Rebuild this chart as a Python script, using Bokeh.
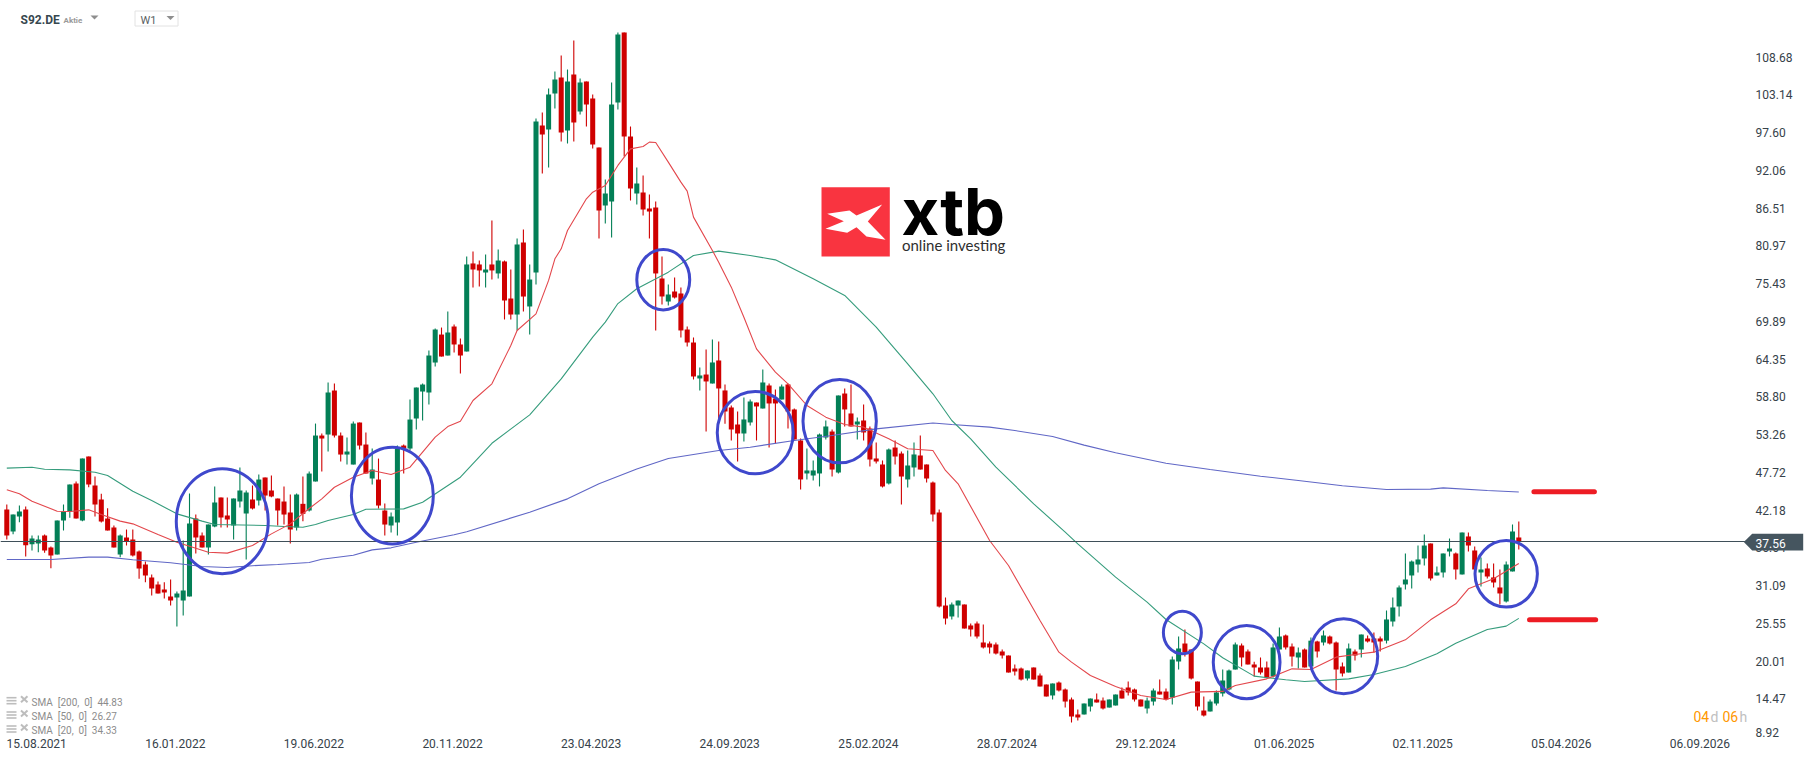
from bokeh.core.properties import value
from bokeh.embed import file_html
from bokeh.resources import INLINE
from bokeh.plotting import figure
from bokeh.models import Range1d, LinearAxis, FixedTicker

# weekly candles of S92.DE
highs = [
42.99,41.52,42.85,42.7,38.44,38.44,38.59,36.83,40.64,42.99,
45.93,46.37,49.75,50.04,47.1,44.56,42.45,39.91,38.59,39.32,
39.32,36.24,34.62,32.71,31.69,31.59,31.98,30.2,37.71,44.61,
41.52,38.88,40.06,45.64,44.02,44.02,43.87,48.43,45.05,45.78,
47.4,46.96,47.25,43.87,45.64,44.46,44.61,47.1,47.84,54.88,
53.42,60.91,60.76,53.56,52.83,55.18,55.03,53.56,51.21,49.74,
43.14,41.82,51.65,51.8,58.41,60.17,60.76,65.6,68.84,68.98,
71.33,69.42,67.37,79.41,80.15,78.82,79.71,84.7,80.44,78.82,
77.5,82.06,83.38,78.24,99.68,100.56,104.08,106.58,108.93,106.87,
111.13,105.55,105.11,103.2,95.42,90.72,104.97,112.31,112.31,98.5,
92.48,91.31,88.52,87.49,79.41,75.3,76.33,74.86,69.13,67.52,
63.11,65.76,67.22,66.93,60.62,57.53,56.65,58.71,58.41,57.97,
62.82,60.76,59.88,60.62,60.76,57.09,52.69,51.22,49.46,53.42,
55.33,54.01,59.0,60.03,60.62,55.77,57.68,54.45,52.1,49.46,
51.22,52.39,50.78,50.92,52.1,53.13,48.87,46.37,42.26,29.34,
28.6,28.89,28.31,25.52,25.81,25.37,22.88,22.73,21.7,20.82,
19.5,19.06,18.62,19.06,18.18,16.56,16.71,17.0,15.97,14.65,
12.89,13.77,14.5,15.24,14.65,14.36,15.09,16.12,17.0,15.97,
14.36,14.65,15.97,17.29,15.97,20.67,23.61,24.64,21.7,17.0,
14.8,14.36,15.68,18.76,18.76,22.73,22.58,21.7,19.9,20.53,
19.94,22.58,24.93,23.9,22.58,22.0,21.85,23.46,23.0,24.49,
23.76,22.88,19.79,22.58,21.7,23.9,23.76,24.2,23.61,27.43,
29.34,31.1,35.8,34.77,36.97,38.59,37.27,33.89,35.8,38.0,
35.95,38.88,38.88,36.83,35.21,34.33,34.33,33.45,34.62,40.06,
40.5]

body_tops = [
42.26,41.52,41.96,42.26,38.0,37.85,38.44,36.68,40.64,41.96,
45.93,46.08,49.75,50.04,45.78,43.73,40.94,39.62,38.44,38.15,
37.85,36.09,34.18,32.27,31.24,30.51,29.48,29.92,30.36,40.2,
40.94,38.44,40.06,43.29,44.02,41.38,43.87,45.05,44.76,43.73,
46.66,46.96,45.05,43.87,43.43,41.82,44.46,43.09,47.54,53.12,
53.12,59.44,59.73,53.12,50.77,54.88,55.03,51.8,48.13,46.66,
42.11,41.23,51.21,51.65,55.47,60.17,60.61,64.87,68.69,67.95,
68.25,69.13,66.49,78.24,78.39,78.24,77.5,78.24,78.82,78.68,
73.24,81.18,81.47,76.03,99.24,98.65,103.2,105.41,105.7,105.11,
106.14,104.97,105.11,102.62,95.42,88.66,101.73,112.01,112.31,97.03,
90.13,88.81,86.46,86.61,76.18,73.83,74.27,73.98,68.69,66.78,
61.94,62.08,63.85,64.14,59.74,57.24,54.74,55.48,58.12,57.97,
60.91,60.47,58.56,60.32,60.62,56.95,52.39,47.99,47.99,53.27,
54.45,53.71,59.0,59.29,56.36,55.18,55.33,54.15,49.75,48.87,
51.07,51.36,50.48,48.72,50.34,50.19,48.87,46.22,41.82,28.16,
28.31,28.89,28.31,25.23,25.52,22.73,22.58,22.44,21.41,20.82,
18.91,18.91,18.62,19.06,17.88,16.56,16.71,16.85,15.83,14.36,
12.16,13.77,14.5,14.36,14.21,14.36,15.09,15.68,16.12,15.83,
14.36,14.21,15.68,15.53,15.53,20.23,21.85,22.58,21.7,17.0,
12.74,14.06,15.39,17.15,18.62,22.44,22.29,21.41,19.5,19.06,
19.06,22.0,23.61,23.76,22.14,21.26,21.7,23.0,22.88,23.76,
23.61,22.73,19.21,21.85,21.41,23.9,23.32,23.32,23.32,26.11,
27.87,30.81,31.98,34.62,34.92,36.97,37.27,33.01,35.8,36.53,
35.8,38.88,38.3,36.24,33.45,33.6,32.28,30.81,34.18,39.03,
38.15]

body_bottoms = [
38.44,39.03,41.23,37.02,37.17,37.27,36.24,35.5,35.65,40.64,
41.96,40.94,40.64,45.93,42.99,40.5,39.17,36.68,35.65,37.56,
35.5,33.59,32.57,30.66,29.92,30.07,28.9,29.34,28.9,29.48,
38.15,36.68,36.68,39.76,41.08,40.79,39.91,43.43,41.67,42.41,
43.58,44.31,44.17,42.11,41.52,39.32,39.62,41.62,42.11,46.37,
52.68,53.27,53.12,50.33,50.33,48.86,51.65,47.54,46.81,42.84,
40.05,39.91,40.35,51.21,51.21,55.62,59.58,59.44,63.84,64.72,
64.87,66.49,64.87,65.46,77.5,77.36,77.06,77.36,76.92,72.95,
70.89,70.89,73.53,72.07,77.06,97.33,98.06,103.35,97.62,97.92,
99.09,100.71,101.73,95.86,86.17,86.9,87.49,102.03,97.03,89.4,
88.66,86.31,86.02,76.92,73.54,72.8,73.39,68.55,66.78,61.79,
61.5,61.06,60.76,60.03,56.65,54.01,53.42,53.42,55.04,57.39,
57.09,57.83,57.83,58.41,56.65,52.54,46.67,47.55,47.25,47.55,
52.83,48.13,47.69,56.95,54.45,54.74,53.57,49.6,49.31,45.64,
46.08,50.04,47.1,46.67,48.43,48.13,46.81,41.53,28.01,26.25,
26.55,28.16,24.78,24.64,23.61,22.0,22.0,21.11,20.82,18.32,
18.47,17.29,17.44,17.29,16.27,14.8,14.95,15.68,14.06,11.86,
11.72,12.16,13.33,13.92,13.04,13.18,13.48,14.5,15.39,14.36,
13.33,13.04,14.06,15.09,14.36,14.65,19.94,21.26,17.44,13.33,
12.01,12.6,13.77,15.24,15.83,18.76,20.53,19.5,19.06,18.32,
17.59,17.74,21.7,22.0,20.67,20.53,19.06,19.21,21.41,22.73,
22.58,18.76,18.18,18.32,20.82,21.7,22.88,22.73,22.88,23.0,
25.81,28.02,31.25,32.57,34.18,35.07,32.13,32.57,33.01,36.09,
33.45,32.72,36.97,33.45,33.01,32.42,31.54,29.93,28.75,33.16,
37.56]

lows = [
37.85,38.64,40.4,35.36,36.24,35.99,35.9,33.64,35.65,39.17,
41.03,40.94,40.55,45.54,41.23,40.35,39.17,36.68,35.26,36.97,
35.36,32.08,31.59,29.63,29.92,29.19,28.16,25.08,26.69,29.48,
35.8,36.68,35.65,39.66,39.62,39.62,37.85,42.55,34.92,42.26,
42.85,42.11,44.07,39.91,40.06,37.27,39.17,40.54,41.96,46.37,
47.84,50.77,52.83,49.3,48.86,48.86,51.07,47.54,45.93,42.4,
38.44,38.88,38.44,47.54,50.92,54.0,55.33,57.67,63.25,64.72,
64.87,65.31,62.23,65.46,74.86,75.0,74.86,76.03,76.18,70.16,
70.16,68.54,71.33,67.95,75.3,91.6,92.48,101.15,96.3,96.01,
96.3,100.27,98.5,95.27,82.06,84.26,82.2,101.0,94.1,87.64,
87.05,85.43,82.06,68.55,72.36,72.22,73.25,67.52,66.2,61.35,
59.74,53.71,60.76,55.33,54.84,52.39,49.31,52.25,54.6,52.39,
57.09,51.36,51.95,58.41,54.15,52.54,45.2,46.67,46.52,45.64,
52.54,47.1,47.55,54.45,54.45,52.54,52.39,48.57,49.01,45.49,
45.93,48.87,43.0,45.49,47.1,48.13,46.22,40.5,27.87,25.37,
26.11,26.4,24.78,23.61,23.32,21.85,21.11,20.97,20.38,18.32,
17.88,17.15,17.15,17.29,16.27,14.8,14.36,15.53,13.18,10.98,
11.27,12.16,12.6,13.92,12.89,13.18,13.48,14.5,14.95,14.06,
13.33,12.3,13.48,15.09,14.21,13.62,18.76,20.67,17.29,12.74,
11.86,12.6,13.48,14.8,15.68,18.76,19.21,19.5,17.74,18.03,
17.44,17.59,21.7,21.7,19.21,18.91,19.06,19.06,20.53,22.29,
22.44,15.68,17.74,18.32,20.09,20.53,22.73,21.26,21.41,22.58,
25.08,26.55,30.51,30.66,33.01,34.04,31.83,32.57,32.28,35.36,
31.98,32.72,36.09,33.45,30.95,32.13,30.81,28.31,28.6,33.16,
36.39]

directions = list(
    "RGGRGGRRGG" "GRGRRRRRGR" "RRRRRRRGGG" "RRGGRRGGGR" "GRRRRRGRGG"
    "RGRRGGRRGR" "RGGRGGGGGR" "GRRGRRGRGR" "RGRGGRGGRG" "RGRRRGGGRR"
    "GRRRRGRRRR" "GRGRRRRGGR" "GRRGRRRGGG" "GRGRRGRRRR" "GRRGGRRRRR"
    "GGRRRRRRRR" "RRGRRRGRRR" "RGGRRGGRRR" "RGGRRGGRRR" "RGGGGGRRRR"
    "RGGRRGRGRG" "RRRGRGRRRG" "GGGGGGRGGG" "RGRRGRRRGG" "R")

assert len(highs) == len(lows) == len(body_tops) == len(body_bottoms) == len(directions) == 241

# moving averages at the weeks listed
sma200_weeks = [0,7,13,16,20,26,31,35,39,43,48,50,55,58,61,65,71,73,83,89,94,100,105,113,118,125,131,138,147,150,156,160,166,171,176,184,191,199,205,212,219,226,228,235,240]
sma200_vals = [34.92,34.92,35.26,35.26,34.87,34.43,33.89,33.74,34.0,34.18,34.48,34.96,35.55,36.33,36.63,37.46,38.54,39.0,41.86,43.82,46.05,48.2,49.75,50.92,51.41,52.39,53.13,54.1,54.97,54.74,54.35,53.86,52.98,51.71,50.58,49.06,48.13,47.15,46.52,45.74,45.2,45.25,45.44,45.05,44.83]

sma50_weeks = [0,4,6,10,14,16,20,23,27,31,33,41,44,47,49,51,55,57,63,66,72,77,83,88,93,95,97,100,105,109,113,118,122,128,133,138,143,147,150,153,157,163,168,170,176,181,184,190,193,198,203,206,213,217,222,227,230,235,238,240]
sma50_vals = [48.33,48.47,48.18,48.08,47.74,47.25,44.95,43.58,41.62,40.55,40.06,39.91,39.76,39.66,40.05,40.64,41.52,42.3,42.35,43.33,47.0,51.98,56.16,61.44,67.56,69.77,72.5,74.67,77.11,79.56,80.2,79.56,78.92,76.13,73.69,69.04,63.65,59.25,55.33,52.64,48.48,43.09,38.93,37.22,32.32,28.65,26.11,22.53,20.48,17.79,17.25,17.0,17.39,18.03,19.21,21.07,22.63,24.64,25.13,26.27]

sma20_weeks = [0,2,4,8,10,13,15,18,20,24,27,32,35,39,42,45,48,50,52,55,58,61,64,68,70,72,74,77,80,81,84,86,87,88,89,92,93,95,97,99,101,102,103,105,107,108,109,112,113,115,117,119,122,124,127,130,133,136,140,143,147,149,151,156,159,164,167,169,172,176,180,184,188,193,195,200,204,207,211,214,217,222,226,230,232,236,240]
sma20_vals = [45.15,44.56,43.48,42.01,41.96,42.21,41.52,40.55,40.15,38.59,37.46,35.99,35.85,36.97,38.68,40.15,42.4,43.82,45.53,47.0,47.98,47.39,48.47,52.88,54.44,55.23,58.26,60.71,66.34,68.54,70.99,75.9,79.07,80.54,83.23,87.88,88.86,89.84,92.78,95.22,95.57,96.2,96.15,93.27,90.33,89.01,85.19,80.3,78.58,74.91,70.5,65.85,62.43,60.71,57.53,55.82,54.74,54.35,52.64,51.17,50.92,47.99,46.03,37.71,34.04,25.96,21.31,19.84,17.88,16.27,14.95,14.36,15.44,15.55,16.42,17.39,18.86,18.76,20.58,20.97,21.31,23.12,26.06,28.41,30.61,32.08,34.33]

last_price = 37.56
price_ticks = [108.68,103.14,97.60,92.06,86.51,80.97,75.43,69.89,64.35,58.80,53.26,47.72,42.18,36.64,31.09,25.55,20.01,14.47]
lowest_tick_label = "8.92"
date_ticks = [4.75 + 22 * k for k in range(13)]
date_labels = ["15.08.2021","16.01.2022","19.06.2022","20.11.2022","23.04.2023","24.09.2023","25.02.2024","28.07.2024","29.12.2024","01.06.2025","02.11.2025","05.04.2026","06.09.2026"]

# hand-drawn marks on the chart
circle_weeks = [34.2, 61.2, 104.2, 118.8, 132.2, 186.6, 196.8, 212.2, 238.0]
circle_prices = [40.54, 44.31, 76.0, 53.54, 55.23, 24.2, 19.84, 20.7, 32.82]
circle_widths = [14.6, 13.0, 8.4, 12.06, 11.64, 6.03, 10.6, 10.8, 9.9]
circle_heights = [15.4, 14.2, 8.86, 12.09, 12.24, 6.27, 10.77, 11.0, 9.79]
level_prices = [44.86, 26.06]
level_starts = [242.4, 241.7]
level_ends = [252.0, 252.2]

sma_legend = ["SMA\u00a0\u00a0[200,\u00a0\u00a00]\u00a0\u00a044.83", "SMA\u00a0\u00a0[50,\u00a0\u00a00]\u00a0\u00a026.27", "SMA\u00a0\u00a0[20,\u00a0\u00a00]\u00a0\u00a034.33"]

GREEN = "#037f56"
RED = "#cf0000"
W, H = 1815, 761

# page-pixel helpers for the chrome around the chart (not data)
def X(px):
    return px / 6.3 - 1
def Y(py):
    return 37.56 + (541 - py) / 6.81

p = figure(width=W, height=H, output_backend="svg", toolbar_location=None,
           x_axis_location=None, y_axis_location=None,
           x_range=Range1d(X(0), X(W)), y_range=Range1d(Y(H), Y(0)),
           min_border=0, outline_line_color=None, background_fill_color="white",
           border_fill_color="white")
p.styles = {"position": "absolute", "left": "0px", "top": "0px"}
p.xgrid.visible = False
p.ygrid.visible = False

weeks = list(range(len(highs)))
colors = [GREEN if d == "G" else RED for d in directions]
p.segment(weeks, lows, weeks, highs, color=colors, line_width=1.1)
p.vbar(x=weeks, top=body_tops, bottom=body_bottoms, width=0.8, fill_color=colors, line_color=None)

p.line(sma200_weeks, sma200_vals, line_color="#6067c6", line_width=1.1)
p.line(sma50_weeks, sma50_vals, line_color="#359c7c", line_width=1.1)
p.line(sma20_weeks, sma20_vals, line_color="#e3474c", line_width=1.1)

p.segment([X(0)], [last_price], [X(1745)], [last_price], line_color="#3f4f59", line_width=1.2)

p.ellipse(x=circle_weeks, y=circle_prices, width=circle_widths, height=circle_heights,
          fill_color=None, line_color="#3f48cc", line_width=3)
p.segment(level_starts, level_prices, level_ends, level_prices, line_color="#ed1c24",
          line_width=5, line_cap="round")

low_tick_pos = Y(732)
yaxis = LinearAxis(fixed_location=X(1745), ticker=FixedTicker(ticks=price_ticks + [low_tick_pos]))
overrides = {t: f"{t:.2f}" for t in price_ticks}
overrides[low_tick_pos] = lowest_tick_label
yaxis.major_label_overrides = overrides
yaxis.axis_line_color = None
yaxis.major_tick_line_color = None
yaxis.minor_tick_line_color = None
yaxis.major_tick_in = 0
yaxis.major_tick_out = 0
yaxis.major_label_standoff = 10
yaxis.major_label_text_font = "Roboto"
yaxis.major_label_text_font_size = "12px"
yaxis.major_label_text_color = "#36424a"
p.add_layout(yaxis, "right")

xaxis = LinearAxis(fixed_location=Y(736), ticker=FixedTicker(ticks=date_ticks))
xaxis.major_label_overrides = dict(zip(date_ticks, date_labels))
xaxis.axis_line_color = None
xaxis.major_tick_line_color = None
xaxis.minor_tick_line_color = None
xaxis.major_tick_in = 0
xaxis.major_tick_out = 0
xaxis.major_label_standoff = 2
xaxis.major_label_text_font = "Roboto"
xaxis.major_label_text_font_size = "12px"
xaxis.major_label_text_color = "#36424a"
p.add_layout(xaxis, "below")

# price tag on the axis
p.patch([X(1743.3), X(1751.7), X(1802.7), X(1802.7), X(1751.7)],
        [Y(541.5), Y(533.3), Y(533.3), Y(550), Y(550)],
        fill_color="#45555f", line_color=None, level="overlay")

def txt(px, py, s, size, color, font="Roboto", style="normal", baseline="middle"):
    p.text([X(px)], [Y(py)], text=[s], text_font=value(font), text_font_size=value(size), text_color=color,
           text_font_style=style, text_align="left", text_baseline=baseline, level="overlay")

txt(1755, 543, f"{last_price:.2f}", "12px", "white")

# header
txt(20, 19, "S92.DE", "12px", "#37474f", style="bold")
txt(63, 19.5, "Aktie", "8px", "#9a9a9a", style="bold")
p.patch([X(90), X(98), X(94)], [Y(15), Y(15), Y(19)], fill_color="#8e8e8e", line_color=None, level="overlay")
p.quad(left=[X(134.5)], right=[X(177.5)], top=[Y(10.5)], bottom=[Y(25.5)], fill_color="white",
       line_color="#e2e2e2", line_width=1, level="overlay")
txt(140, 19.5, "W1", "11px", "#5a5f63")
p.patch([X(166), X(174), X(170)], [Y(15.5), Y(15.5), Y(19.5)], fill_color="#8e8e8e", line_color=None, level="overlay")

# logo
p.quad(left=[X(821)], right=[X(889.3)], top=[Y(186.7)], bottom=[Y(256)], fill_color="#f93440", line_color=None, level="overlay")
star_px = [(826.7,213.3),(849,210),(856,215),(881.7,204),(867.3,221),(885,239.3),(866,236),(856,226.7),(846.7,232.3),(825,228.3),(843.3,220.7)]
p.patch([X(a) for a, _ in star_px], [Y(b) for _, b in star_px], fill_color="white", line_color=None, level="overlay")
txt(901, 211, "xtb", "65px", "#000000", font="Inter", style="bold", baseline="middle")
txt(901.5, 244, "online investing", "15px", "#2e2e2e", font="Lato", baseline="middle")

# indicator legend
for row, (label, py) in enumerate(zip(sma_legend, [701.7, 716, 730])):
    for dy in (-4.5, -1.5, 1.5):
        p.segment([X(6)], [Y(py + dy)], [X(16)], [Y(py + dy)], line_color="#bdbdbd", line_width=1.6, level="overlay")
    p.segment([X(20.5), X(20.5)], [Y(py - 6), Y(py)], [X(27), X(27)], [Y(py), Y(py - 6)],
              line_color="#bdbdbd", line_width=2, level="overlay")
    txt(31, py, label, "10px", "#8c8c8c")

# countdown
txt(1693, 716, "04", "14px", "#ff9800")
txt(1710, 716, "d", "14px", "#c0c0c0")
txt(1722, 716, "06", "14px", "#ff9800")
txt(1739, 716, "h", "14px", "#c0c0c0")

open("out.html", "w").write(file_html(p, INLINE))
